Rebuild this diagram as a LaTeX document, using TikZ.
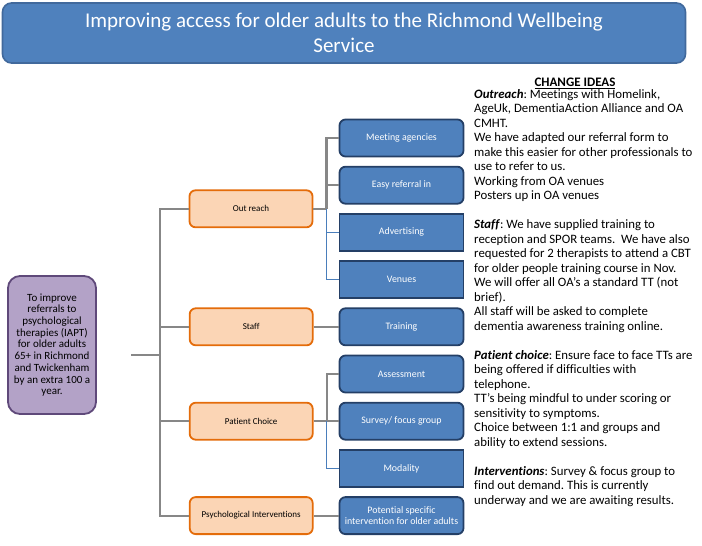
\documentclass[tikz,border=0pt]{standalone}
\usepackage{fontspec}
\setmainfont{Carlito}[Ligatures={NoCommon,TeX}]
\usepackage{tikz}
\usetikzlibrary{positioning,calc}
\definecolor{boxblue}{HTML}{4F81BD}
\definecolor{titleline}{HTML}{41699C}
\definecolor{idealine}{HTML}{243F66}
\definecolor{themefill}{HTML}{FBD5B5}
\definecolor{themeline}{HTML}{E46C0A}
\definecolor{goalfill}{HTML}{B3A2C7}
\definecolor{goalline}{HTML}{5F497A}
\definecolor{linkgray}{HTML}{878787}
\definecolor{linkblue}{HTML}{4A7EBB}
\frenchspacing

\begin{document}
\begin{tikzpicture}[
  x=1pt,y=-1pt,
  node distance=8.4pt and 25pt,
  title/.style={draw=titleline,fill=boxblue,rounded corners=9pt,line width=1.6pt,
                text=white,align=center,minimum width=683pt,minimum height=60pt,
                font=\fontsize{21}{24.5}\selectfont},
  goal/.style={draw=goalline,fill=goalfill,rounded corners=12pt,line width=1.8pt,
               align=center,minimum width=88pt,minimum height=138pt,inner sep=2pt,
               font=\fontsize{11}{11.7}\selectfont},
  theme/.style={draw=themeline,fill=themefill,rounded corners=6pt,line width=1.8pt,
                align=center,minimum width=123pt,minimum height=37pt,
                font=\fontsize{9}{11}\selectfont},
  idea/.style={draw=idealine,fill=boxblue,rounded corners=6pt,line width=1.8pt,
               text=white,align=center,minimum width=124pt,minimum height=37pt,
               inner sep=1pt,font=\fontsize{9.9}{11.8}\selectfont},
  ideasq/.style={idea,sharp corners},
  link/.style={draw=linkgray,line width=2.2pt},
  linkb/.style={draw=linkblue,line width=1.6pt}
]
\useasboundingbox (0,0) rectangle (702,546);

% heading
\node[title] (head) at (344,33) {Improving access for older adults to the Richmond Wellbeing\\Service};

% aim
\node[goal] (aim) at (52,345) {To improve\\referrals to\\psychological\\therapies (IAPT)\\for older adults\\65+ in Richmond\\and Twickenham\\by an extra 100 a\\year.};

% change ideas column
\node[idea] (meet) at (401.5,138) {Meeting agencies};
\node[idea,below=of meet] (easy) {Easy referral in};
\node[ideasq,below=of easy] (advert) {Advertising};
\node[ideasq,below=of advert] (venues) {Venues};
\node[idea,below=of venues] (training) {Training};
\node[idea,below=of training] (assess) {Assessment};
\node[idea,below=of assess] (survey) {Survey/ focus group};
\node[ideasq,below=of survey] (modality) {Modality};
\node[idea,below=of modality] (specific) {Potential specific\\intervention for older adults};

% drivers
\node[theme] (outreach) at ($(easy)!0.5!(advert)+(-150.5,0)$) {Out reach};
\node[theme,left=of training] (staff) {Staff};
\node[theme,left=of survey] (choice) {Patient Choice};
\node[theme,left=of specific] (interv) {Psychological Interventions};

% tree
\coordinate (root) at (131,355);
\coordinate (fork) at (160,355);
\draw[link] (root) -- (fork);
\draw[link] (outreach.west) -- (outreach.west -| fork) |- (interv.west);
\draw[link] (staff.west) -- (staff.west -| fork);
\draw[link] (choice.west) -- (choice.west -| fork);

\coordinate (obranch) at ($(outreach.east)+(13,0)$);
\draw[link] (outreach.east) -- (obranch);
\draw[link] (meet.west) -- (meet.west -| obranch) -- (obranch);
\draw[link] (easy.west) -- (easy.west -| obranch);
\draw[linkb] (obranch) -- (obranch |- venues.west) -- (venues.west);
\draw[linkb] (advert.west) -- (advert.west -| obranch);

\draw[link] (staff) -- (training);

\coordinate (cbranch) at ($(choice.east)+(13,0)$);
\draw[link] (choice) -- (survey);
\draw[link] (assess.west) -- (assess.west -| cbranch) -- (cbranch);
\draw[linkb] (cbranch) -- (cbranch |- modality.west) -- (modality.west);

\draw[link] (interv) -- (specific);

% notes
\node (ideas) at (575,83) {\fontsize{13}{14}\selectfont\underline{\textbf{CHANGE IDEAS}}};
\node[anchor=north west,align=left,inner sep=0pt,font=\fontsize{12.8}{14.5}\selectfont]
  (notes) at (474,89) {%
\textbf{\textit{Outreach}}: Meetings with Homelink,\\
AgeUk, DementiaAction Alliance and OA\\
CMHT.\\
We have adapted our referral form to\\
make this easier for other professionals to\\
use to refer to us.\\
Working from OA venues\\
Posters up in OA venues\\[14.5pt]
\textbf{\textit{Staff}}: We have supplied training to\\
reception and SPOR teams.\ \ We have also\\
requested for 2 therapists to attend a CBT\\
for older people training course in Nov.\\
We will offer all OA’s a standard TT (not\\
brief).\\
All staff will be asked to complete\\
dementia awareness training online.\\[14.5pt]
\textbf{\textit{Patient choice}}: Ensure face to face TTs are\\
being offered if difficulties with\\
telephone.\\
TT’s being mindful to under scoring or\\
sensitivity to symptoms.\\
Choice between 1:1 and groups and\\
ability to extend sessions.\\[14.5pt]
\textbf{\textit{Interventions}}: Survey \& focus group to\\
find out demand. This is currently\\
underway and we are awaiting results.};
\end{tikzpicture}
\end{document}
